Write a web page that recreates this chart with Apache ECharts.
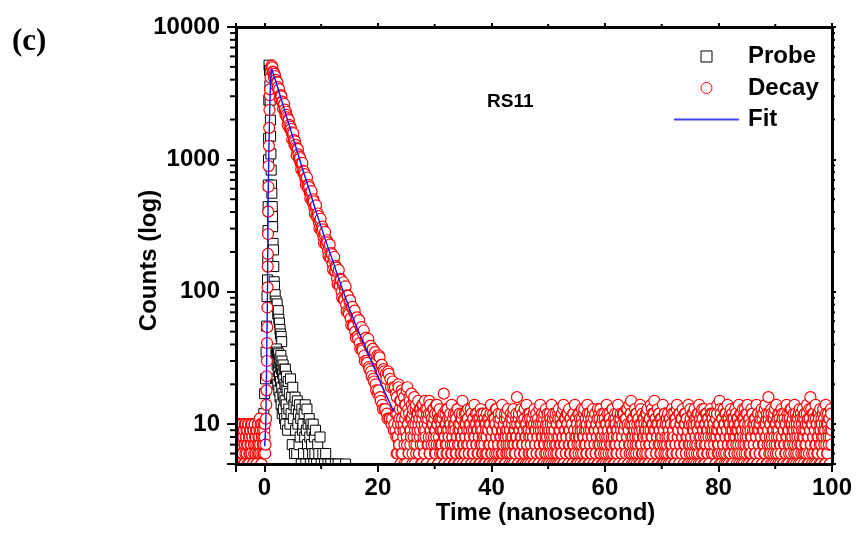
<!DOCTYPE html>
<html>
<head>
<meta charset="utf-8">
<script src="https://cdn.jsdelivr.net/npm/echarts@6/dist/echarts.min.js"></script>
<style>html,body{margin:0;padding:0;background:#fff}#chart{width:858px;height:533px}</style>
</head>
<body>
<div id="chart"></div>
<script>
// ---------- axis ranges / ticks ----------
const X_MIN = -5, X_MAX = 100;
const Y_MIN = 5, Y_MAX = 10000;
const xMinorTicks = [10, 30, 50, 70, 90];
const yMinorTicks = [6,7,8,9,20,30,40,50,60,70,80,90,200,300,400,500,600,700,800,900,2000,3000,4000,5000,6000,7000,8000,9000];

// ---------- Decay (red circles) ----------
// pre-pulse background, channels every 0.1 ns from -5 ns, and the interleaved channels from -4.95 ns
const decayPreAT0 = -5, decayPreADT = 0.1;
const decayPreA = [8,6,10,7,9,5,10,8,6,9, 7,10,6,8,9,5,7,10,8,6, 9,7,10,5,8,6,9,7,10,8,
  5,9,6,10,7,8,5,9,6,10, 7,8,11,6,9,5,10,7,8,6, 9,10,7];
const decayPreBT0 = -4.95, decayPreBDT = 0.1;
const decayPreB = [7,9,6,10,8,5,9,7,6,10, 8,6,9,5,7,10,6,8,9,7, 5,10,8,6,9,7,10,6,8,5,
  9,7,10,8,6,9,5,7,10,8, 6,9,7,10,5,8,6,9,7,10, 8,6];
// rising edge (explicit times)
const decayRiseT = [0.30,0.34,0.38,0.41,0.44,0.47,0.50,0.53,0.56,0.59,0.61,0.64,0.67,0.71,0.75,0.80,0.85,0.90,0.96,1.00,1.08,1.16,1.24,1.32];
const decayRiseC = [11,14,18,23,30,41,54,76,108,155,193,273,403,621,890,1266,1730,2360,3050,3380,4160,4700,5050,5100];
// decay: even channels (1.4, 1.6, ... 23.0 ns)
const decayFallAT0 = 1.4, decayFallADT = 0.2;
const decayFallA = [4950,4560,4420,3980,3850,3520,3390,3050,2990,2710,
  2600,2380,2290,2080,2010,1820,1770,1600,1550,1400,
  1370,1230,1200,1090,1050,930,920,820,810,720,
  715,640,640,560,565,495,500,430,440,380,
  390,335,345,295,310,262,272,232,245,205,
  218,183,196,163,176,143,156,126,140,112,
  125,100,114,88,104,80,94,70,84,63,
  76,56,70,50,63,46,58,41,53,37,
  48,33,44,30,41,27,38,25,35,22,
  33,20,31,17,33,16,28,14,26,13,
  24,12,25,11,22,10,21,9,19];
// decay: odd channels (1.5, 1.7, ... 22.9 ns)
const decayFallBT0 = 1.5, decayFallBDT = 0.2;
const decayFallB = [4610,4130,4250,3580,3810,3280,2890,3060,2730,2410,
  2620,2180,2170,1820,1980,1700,1700,1420,1575,1290,
  1285,1075,1195,1005,1020,840,940,785,775,640,
  730,605,617,507,575,475,482,388,450,366,
  373,301,356,285,296,234,283,227,236,186,
  227,178,192,147,183,143,152,114,146,110,
  123,90,118,87,110,71,93,68,86,56,
  77,55,72,45,64,44,61,37,54,36,
  51,30,45,29,44,26,39,23,37,21,
  35,18,33,18,32,15,28,13,25,13,
  22,11,24,11,19,11,19,10];
// background tail A, channels every 0.1 ns from 23.1 ns
const decayTailAT0 = 23.1, decayTailADT = 0.1;
const decayTailA = [
  9,17,6,12,8,20,7,11,15,5,10,18,6,13,9,16,7,11,14,5,8,19,10,6,12,15,7,9,17,11,6,13,8,16,5,10,14,7,12,9,
  15,6,11,8,13,5,10,14,7,12,9,6,15,8,11,5,13,10,7,12,6,14,9,8,11,5,10,13,7,9,12,6,8,14,10,5,11,7,13,9,
  7,10,6,11,9,17,5,8,12,10,6,7,13,9,8,5,11,10,6,14,8,7,9,12,5,10,6,11,8,13,7,9,5,12,10,8,6,11,15,7,
  9,6,12,8,10,5,7,11,13,6,9,8,10,5,12,7,6,11,9,14,8,5,10,7,12,9,6,8,11,5,13,10,7,9,6,12,8,11,5,10,
  8,12,6,9,7,11,5,10,14,8,6,9,12,7,5,11,10,8,13,6,9,7,12,5,10,11,8,6,14,9,7,10,5,12,8,6,11,9,13,7,
  10,6,9,12,8,5,11,7,13,9,6,10,8,12,16,7,5,11,9,6,10,13,8,7,12,5,9,11,6,10,8,14,7,5,12,9,6,11,8,10,
  6,11,8,5,10,13,7,9,12,6,8,11,5,10,7,14,9,6,12,8,10,5,11,7,9,13,6,8,12,10,5,9,7,11,6,14,8,10,12,5,
  9,7,12,6,10,8,5,11,13,7,9,6,10,12,8,5,14,7,11,9,6,8,12,10,5,7,13,9,11,6,8,10,5,12,7,9,14,6,11,8,
  10,5,12,8,7,11,9,6,13,10,8,5,12,7,9,11,6,10,14,8,5,9,12,7,6,11,10,8,13,5,9,7,12,6,10,8,11,5,9,12,
  7,13,6,10,8,11,5,9,12,7,10,6,14,8,9,5,11,12,7,10,6,8,13,9,5,11,7,12,10,6,8,9,14,5,11,7,10,12,6,8,
  10,5,12,9,7,11,6,13,8,10,5,9,14,7,12,15,6,10,8,11,5,9,13,7,6,12,10,8,11,5,9,14,7,10,6,12,8,5,11,9,
  6,12,8,10,13,5,9,7,11,6,14,8,10,12,5,9,15,7,11,6,10,8,13,5,12,9,7,11,6,10,8,14,5,9,12,7,10,6,11,8,
  12,5,9,11,7,10,6,13,8,9,5,12,10,7,11,6,14,8,9,5,12,7,10,11,6,8,13,9,5,10,7,12,6,11,8,9,14,5,10,7,
  11,8,6,12,9,5,10,13,7,8,11,6,12,9,5,14,10,7,8,12,6,11,9,5,13,7,10,8,12,6,9,11,5,10,7,13,8,6,12,9,
  10,6,12,8,5,11,9,14,7,10,6,15,8,12,5,9,11,7,13,6,10,8,12,5,9,14,7,11,6,10,8,13,5,12,9,7,11,6,10,8,
  12,5,9,11,7,14,6,10,8,12,5,9,13,7,11,6,10,8,12,5,14,9,7,11,6,10,8,13,5,12,9,7,10,6,11,8,14,5,9,12,
  7,10,6,11,8,13,5,9,12,7,10,6,14,8,11,5,9,16,12,7,10,6,13,8,11,5,9,12,7,10,6,14,8,11,5,9,12,7,10,6,
  13,8,11,5,9,12,7,10,6,14,8,11,5,9,12,7,13,6,10,8,11,5,9,14,7,12,6,10,8,11,5,9,13,7,12,6,10,8,11,5,
  9,12,7,10,6,14,8,11,5,13,9,16,7,10,6,12,8,11,5,9,14,7,10,6,12,8,11,5,13,9,7,10,6,12,8,11,5,9,14,7,
  10,6,12,8,11,5,9,13,7,10];
// background tail B, interleaved channels every 0.1 ns from 23.15 ns
const decayTailBT0 = 23.15, decayTailBDT = 0.1;
const decayTailB = [
  12,8,16,6,10,19,7,13,9,15,6,11,17,8,10,5,14,9,12,18,7,10,13,6,16,9,11,8,14,5,12,10,15,7,9,13,6,11,8,12,
  10,6,13,9,7,12,5,11,14,8,6,10,9,13,5,12,7,11,8,15,6,9,12,7,10,5,13,8,11,6,9,14,7,10,12,5,8,11,6,9,
  11,7,9,6,12,8,5,10,7,13,9,6,11,8,5,10,12,7,9,6,8,11,5,10,7,9,12,6,8,13,5,10,7,9,6,11,8,12,5,9,
  7,10,6,8,12,5,9,11,7,6,10,8,13,5,9,7,11,6,8,10,5,12,7,9,6,11,8,5,10,7,9,12,6,8,11,5,7,10,6,9,
  8,6,11,9,5,10,7,12,6,8,9,5,11,7,10,6,13,8,5,9,7,11,6,10,8,5,12,9,7,6,10,8,11,5,9,7,12,6,8,10,
  5,9,7,11,6,10,8,12,5,7,9,6,11,8,10,5,7,12,9,6,8,10,5,11,7,9,6,13,8,5,10,7,9,11,6,8,12,5,7,9,
  10,6,8,12,5,9,7,11,6,10,8,5,9,13,7,6,10,8,11,5,9,7,12,6,8,10,5,11,9,7,6,12,8,10,5,9,7,11,6,8,
  9,11,5,7,10,6,12,8,9,5,11,7,6,10,8,13,5,9,7,11,6,8,10,12,5,9,7,6,11,8,10,5,7,12,9,6,8,11,5,10,
  7,9,6,12,8,5,10,7,11,9,6,8,13,5,10,7,9,6,12,8,11,5,7,10,9,6,8,12,5,11,7,9,6,10,8,5,13,7,9,11,
  6,8,10,5,12,7,9,6,11,8,5,10,7,12,9,6,8,11,5,10,7,9,13,6,8,10,5,11,7,9,6,12,8,5,10,7,11,9,6,8,
  12,5,9,7,10,6,11,8,13,5,9,7,6,10,12,8,5,11,7,9,6,10,8,12,5,9,7,11,6,8,10,5,13,7,9,6,11,8,10,5,
  9,7,12,6,8,10,5,11,7,9,6,13,8,10,5,12,7,9,11,6,8,5,10,7,12,9,6,8,11,5,10,7,9,6,12,8,5,11,7,10,
  6,9,8,11,5,10,7,12,6,9,8,5,11,7,10,13,6,8,9,5,12,7,10,6,11,8,9,5,7,12,10,6,8,11,5,9,7,10,6,13,
  8,5,10,7,12,9,6,11,8,5,10,7,9,12,6,8,11,5,10,7,13,9,6,8,10,5,12,7,9,11,6,8,5,10,7,12,9,6,11,8,
  10,7,9,5,11,8,12,6,9,7,10,5,13,8,6,11,9,7,10,5,12,8,6,9,11,7,5,10,8,12,6,9,7,11,5,10,8,6,13,9,
  7,11,6,9,10,5,8,12,7,9,6,11,8,5,10,13,7,9,6,12,8,10,5,11,7,9,6,8,12,5,10,7,11,9,6,8,10,5,12,7,
  9,6,10,8,12,5,11,7,9,6,13,8,10,5,12,7,9,11,6,8,10,5,12,7,9,6,11,8,13,5,10,7,9,6,12,8,11,5,7,10,
  8,12,5,9,7,11,6,10,8,5,12,9,7,6,11,10,8,13,5,9,7,12,6,10,8,5,11,9,7,6,12,10,8,5,11,7,9,13,6,8,
  11,6,9,7,12,5,10,8,6,11,9,7,13,5,10,8,12,6,9,7,11,5,10,8,6,12,9,7,10,5,11,8,6,13,9,7,10,5,12,8,
  6,10,9,7,11,5,8,12,9];

// ---------- Probe (black squares) ----------
const probeT = [-0.1,0.05,0.2,0.3,0.4,0.47,0.55,0.6,0.63,0.66,0.69,0.72,0.75,0.78,0.82,
  0.9,0.97,1.02,1.06,1.1,1.15,1.2,1.26,1.32,1.38,1.42,1.46,1.52,1.6,1.66,1.72,1.78,
  1.9,2.05,2.15,2.25,2.35,2.45,2.55,2.65,2.75,2.85,2.95,3.05,
  2.1,2.15,2.2,2.25,2.3,2.35,2.4,2.45,2.5,2.55,2.6,2.65,2.7,2.75,2.8,2.85,2.9,2.95,
  3.0,3.05,3.1,3.15,3.2,3.25,3.3,3.35,3.4,3.45,3.5,3.55,3.6,3.65,3.7,3.75,3.8,3.85,3.9,3.95,
  4.0,4.1,4.2,4.3,4.4,4.5,4.6,4.7,4.8,4.9,5.0,5.1,5.2,5.3,5.4,5.5,5.6,5.7,5.8,5.9,
  6.0,6.1,6.2,6.3,6.4,6.5,6.6,6.7,6.8,6.9,7.0,7.1,7.2,7.3,7.4,7.5,7.6,7.7,7.8,7.9,
  8.0,8.1,8.2,8.3,8.4,8.5,8.6,8.7,8.8,8.9,9.0,9.2,9.4,9.6,9.8,10.0,10.3,10.6,10.8,11.2,11.7,12.5,13.0,14.3];
const probeC = [12,17,22,35,55,92,123,179,290,440,640,990,1440,2800,5150,
  4700,3600,2800,1980,1500,1100,830,640,555,440,370,310,232,207,155,119,110,
  95,85,78,81,68,72,62,58,52,48,46,42,
  37,22,33,28,35,20,30,25,34,18,29,23,31,16,27,21,33,14,
  26,19,30,12,24,17,28,13,22,16,26,11,20,15,26,10,19,14,23,12,
  18,9,21,13,17,10,22,12,16,7,19,11,14,6,16,9,13,6,15,10,
  12,7,14,8,11,5,13,9,10,6,12,8,14,5,9,13,7,10,6,11,
  8,5,10,7,9,6,10,5,8,6,9,5,7,6,8,5,6,5,6,5,5,5,5,5];

// ---------- Fit (blue line) ----------
const fitT = [0.05,0.25,0.4,0.55,0.65,0.76,0.9,1.05,1.25,2,3,4,5,6,7,8,9,10,11,12,13,14,15,16,17,18,19,20,21,22,22.8];
const fitC = [6.8,10,30,100,470,1000,2000,3500,4870,3890,2820,2040,1480,1070,776,575,417,309,229,174,129,98,74,57.5,45.7,36.3,28.8,22.9,18.2,14.8,12.4];

// ---------- assemble ----------
const chan = (t0, dt, arr) => arr.map((c, i) => [+(t0 + i * dt).toFixed(3), c]);
const zip = (ts, cs) => ts.map((t, i) => [t, cs[i]]);
const decayData = [].concat(
  chan(decayPreAT0, decayPreADT, decayPreA),
  chan(decayPreBT0, decayPreBDT, decayPreB),
  zip(decayRiseT, decayRiseC),
  chan(decayFallAT0, decayFallADT, decayFallA),
  chan(decayFallBT0, decayFallBDT, decayFallB),
  chan(decayTailAT0, decayTailADT, decayTailA),
  chan(decayTailBT0, decayTailBDT, decayTailB)
).sort((a, b) => a[0] - b[0]);
const probeData = zip(probeT, probeC);
const fitData = zip(fitT, fitC);

const FONT = "'Liberation Sans', Arial, Helvetica, sans-serif";
const chart = echarts.init(document.getElementById('chart'), null, {renderer: 'canvas'});

const axisLineStyle = {color: '#000', width: 3};
const tickStyle = {color: '#000', width: 2};

chart.setOption({
  animation: false,
  backgroundColor: '#fff',
  grid: {left: 236, right: 26, top: 27, bottom: 69, containLabel: false},
  legend: {
    orient: 'vertical', left: 668, top: 39.5, itemGap: 7.5, padding: 5,
    itemWidth: 65, itemHeight: 11, selectedMode: false,
    symbolKeepAspect: true,
    textStyle: {fontFamily: FONT, fontSize: 24, fontWeight: 'bold', color: '#000', padding: [0, 0, 0, 4]},
    data: [
      {name: 'Probe', icon: 'path://M0,0H10V10H0Z', itemStyle: {color: '#fff', borderColor: '#000', borderWidth: 1}},
      {name: 'Decay', itemStyle: {color: '#fff', borderColor: '#ff0000', borderWidth: 1}},
      {name: 'Fit', itemStyle: {color: 'rgba(0,0,0,0)', borderColor: 'rgba(0,0,0,0)', borderWidth: 0, opacity: 0},
        lineStyle: {color: '#4040ff', width: 2}}
    ]
  },
  xAxis: [{
    type: 'value', position: 'bottom', min: X_MIN, max: X_MAX, splitNumber: 5, z: 10,
    name: 'Time (nanosecond)', nameLocation: 'middle', nameGap: 37, nameMoveOverlap: false,
    nameTextStyle: {fontFamily: FONT, fontSize: 24, fontWeight: 'bold', color: '#000', padding: [0, 0, 0, 23]},
    axisLine: {show: true, onZero: false, lineStyle: axisLineStyle},
    axisTick: {show: true, inside: false, length: 8, lineStyle: tickStyle},
    minorTick: {show: false},
    splitLine: {show: false},
    axisLabel: {margin: 12, fontFamily: FONT, fontSize: 24, fontWeight: 'bold', color: '#000',
      formatter: v => (v % 20 === 0 ? String(v) : '')}
  }, {
    type: 'value', position: 'top', min: X_MIN, max: X_MAX, splitNumber: 5, z: 10,
    axisLine: {show: true, onZero: false, lineStyle: axisLineStyle},
    axisTick: {show: true, inside: false, length: 4, lineStyle: tickStyle},
    splitLine: {show: false},
    axisLabel: {show: false}
  }],
  yAxis: [{
    type: 'log', logBase: 10, position: 'left', min: Y_MIN, max: Y_MAX, z: 10,
    name: 'Counts (log)', nameLocation: 'middle', nameRotate: 90, nameGap: 75, nameMoveOverlap: false,
    nameTextStyle: {fontFamily: FONT, fontSize: 24, fontWeight: 'bold', color: '#000', padding: [0, 30, 0, 0]},
    axisLine: {show: true, onZero: false, lineStyle: axisLineStyle},
    axisTick: {show: true, inside: false, length: 9, lineStyle: tickStyle},
    splitLine: {show: false},
    axisLabel: {margin: 16, fontFamily: FONT, fontSize: 24, fontWeight: 'bold', color: '#000',
      formatter: v => ([10, 100, 1000, 10000].includes(Math.round(v)) ? String(Math.round(v)) : '')}
  }, {
    type: 'log', logBase: 10, position: 'right', min: Y_MIN, max: Y_MAX, z: 10,
    axisLine: {show: true, onZero: false, lineStyle: axisLineStyle},
    axisTick: {show: true, inside: false, length: 4, lineStyle: tickStyle},
    splitLine: {show: false},
    axisLabel: {show: false}
  }],
  graphic: [
    {type: 'rect', z: 5, silent: true, shape: {x: 0, y: 465, width: 858, height: 68}, style: {fill: '#fff'}},
    {type: 'rect', z: 5, silent: true, shape: {x: 0, y: 0, width: 235, height: 533}, style: {fill: '#fff'}},
    {type: 'rect', z: 5, silent: true, shape: {x: 833, y: 0, width: 25, height: 533}, style: {fill: '#fff'}},
    {type: 'text', z: 12, left: 12, top: 26, silent: true,
      style: {text: '(c)', font: "bold 31px 'Liberation Serif', 'Times New Roman', serif", fill: '#000'}},
    {type: 'text', z: 12, left: 487, top: 92, silent: true,
      style: {text: 'RS11', font: "bold 19px " + FONT, fill: '#000'}}
  ],
  series: [
    {
      name: 'Probe', type: 'scatter', xAxisIndex: 0, yAxisIndex: 0, clip: false,
      symbol: 'rect', symbolSize: 10, z: 2,
      itemStyle: {color: '#fff', borderColor: '#000', borderWidth: 1, opacity: 1},
      data: probeData
    },
    {
      name: 'Decay', type: 'scatter', xAxisIndex: 0, yAxisIndex: 0, clip: false,
      symbol: 'circle', symbolSize: 11, z: 3, large: false,
      itemStyle: {color: '#fff', borderColor: '#ff0000', borderWidth: 1.2, opacity: 1},
      data: decayData
    },
    {
      name: 'Fit', type: 'line', xAxisIndex: 0, yAxisIndex: 0,
      symbol: 'none', showSymbol: false, z: 4,
      lineStyle: {color: '#1010ff', width: 1.4},
      data: fitData
    },
    {
      name: 'yMinor', type: 'custom', xAxisIndex: 0, yAxisIndex: 0, z: 11, silent: true, clip: false,
      data: yMinorTicks.map(v => [X_MIN, v]),
      renderItem: (params, api) => {
        const v = api.value(1);
        const pL = api.coord([X_MIN, v]);
        const pR = api.coord([X_MAX, v]);
        return {type: 'group', children: [
          {type: 'line', shape: {x1: pL[0], y1: pL[1], x2: pL[0] - 6, y2: pL[1]}, style: {stroke: '#000', lineWidth: 2}},
          {type: 'line', shape: {x1: pR[0], y1: pR[1], x2: pR[0] + 3, y2: pR[1]}, style: {stroke: '#000', lineWidth: 2}}
        ]};
      }
    },
    {
      name: 'xMinor', type: 'custom', xAxisIndex: 0, yAxisIndex: 0, z: 11, silent: true, clip: false,
      data: xMinorTicks.map(v => [v, Y_MIN]),
      renderItem: (params, api) => {
        const v = api.value(0);
        const pB = api.coord([v, Y_MIN]);
        const pT = api.coord([v, Y_MAX]);
        return {type: 'group', children: [
          {type: 'line', shape: {x1: pB[0], y1: pB[1], x2: pB[0], y2: pB[1] + 5}, style: {stroke: '#000', lineWidth: 2}},
          {type: 'line', shape: {x1: pT[0], y1: pT[1], x2: pT[0], y2: pT[1] - 3}, style: {stroke: '#000', lineWidth: 2}}
        ]};
      }
    }
  ]
});
</script>
</body>
</html>
